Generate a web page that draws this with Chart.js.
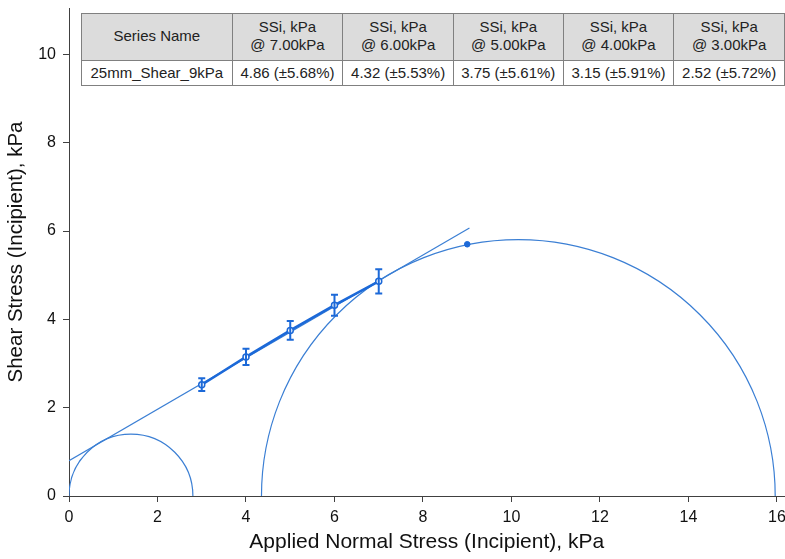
<!DOCTYPE html>
<html>
<head>
<meta charset="utf-8">
<script src="https://cdn.jsdelivr.net/npm/chart.js@4.4.0/dist/chart.umd.min.js"></script>
<style>
  body { margin: 0; background: #fff; overflow: hidden; }
  #wrap { position: relative; width: 785px; height: 559px; overflow: hidden; }
  #summary {
    position: absolute; left: 81px; top: 13px;
    border-collapse: collapse; table-layout: fixed;
    font-family: "Liberation Sans", Arial, sans-serif; font-size: 15px; color: #222;
    background: #fff;
  }
  #summary td, #summary th {
    border: 1px solid #808080; padding: 0; text-align: center; font-weight: normal;
    white-space: nowrap; line-height: 18px;
  }
  #summary th { background: #dcdcdc; height: 43px; padding-bottom: 3px; }
  #summary td { height: 24px; }
</style>
</head>
<body>
<div id="wrap">
  <!-- canvas is a little wider than the page so the last x label gets cut at the edge -->
  <canvas id="mohrChart" width="790" height="559"></canvas>
  <table id="summary"></table>
</div>
<script>
// measured points (normal stress -> incipient shear stress)
const seriesName = "25mm_Shear_9kPa";
const normalStress = [3, 4, 5, 6, 7];
const shearStress = [2.52, 3.15, 3.75, 4.32, 4.86];
const errorPct = [5.72, 5.91, 5.61, 5.53, 5.68];

// shear test point
const testNormal = [9];
const testShear = [5.7];

// yield locus (fit line) end points
const fitX = [0, 9.05];
const fitY = [0.8, 6.07];

// Mohr circles, given by their end points on the normal stress axis
const circleLow = [0, 4.35];
const circleHigh = [2.8, 15.96];

const xTicks = [0, 2, 4, 6, 8, 10, 12, 14, 16];
const yTicks = [0, 2, 4, 6, 8, 10];

const dataBlue = "#1c69d8";
const lineBlue = "#3b7fd4";
const axisColor = "#404040";

function buildTable() {
  let table = document.getElementById("summary");
  let widths = [151, 111, 111, 110, 111, 111];
  let cols = "<colgroup>" + widths.map(w => '<col style="width:' + w + 'px">').join("") + "</colgroup>";
  let head = "<tr><th>Series Name</th>";
  let row = "<tr><td>" + seriesName + "</td>";
  for (let i = normalStress.length - 1; i >= 0; i--) {
    head += "<th>SSi, kPa<br>@ " + normalStress[i].toFixed(2) + "kPa</th>";
    row += "<td>" + shearStress[i].toFixed(2) + " (\u00b1" + errorPct[i].toFixed(2) + "%)</td>";
  }
  table.innerHTML = cols + head + "</tr>" + row + "</tr>";
}

// draws the upper halves of the Mohr circles
const circlePlugin = {
  id: "mohrCircles",
  beforeDatasetsDraw(chart) {
    const ctx = chart.ctx;
    const xs = chart.scales.x;
    const ys = chart.scales.y;
    const area = chart.chartArea;
    ctx.save();
    ctx.beginPath();
    ctx.rect(area.left, area.top, area.right - area.left, area.bottom - area.top);
    ctx.clip();
    ctx.strokeStyle = lineBlue;
    ctx.lineWidth = 1.2;
    for (let i = 0; i < circleLow.length; i++) {
      let c = (circleLow[i] + circleHigh[i]) / 2;
      let r = (circleHigh[i] - circleLow[i]) / 2;
      let cx = xs.getPixelForValue(c);
      let cy = ys.getPixelForValue(0);
      let rx = xs.getPixelForValue(c + r) - cx;
      let ry = cy - ys.getPixelForValue(r);
      ctx.beginPath();
      ctx.ellipse(cx, cy, rx, ry, 0, Math.PI, 2 * Math.PI);
      ctx.stroke();
    }
    ctx.restore();
  }
};

// vertical error bars with caps on the measured series
const errorBarPlugin = {
  id: "errorBars",
  afterDatasetsDraw(chart) {
    const ctx = chart.ctx;
    const xs = chart.scales.x;
    const ys = chart.scales.y;
    ctx.save();
    ctx.strokeStyle = dataBlue;
    ctx.lineWidth = 2;
    for (let i = 0; i < normalStress.length; i++) {
      let err = shearStress[i] * errorPct[i] / 100;
      let px = xs.getPixelForValue(normalStress[i]);
      let top = ys.getPixelForValue(shearStress[i] + err);
      let bot = ys.getPixelForValue(shearStress[i] - err);
      ctx.beginPath();
      ctx.moveTo(px, top); ctx.lineTo(px, bot);
      ctx.moveTo(px - 3.5, top); ctx.lineTo(px + 3.5, top);
      ctx.moveTo(px - 3.5, bot); ctx.lineTo(px + 3.5, bot);
      ctx.stroke();
    }
    ctx.restore();
  }
};

function keepTicks(list) {
  return function (scale) {
    scale.ticks = list.map(v => ({ value: v }));
  };
}

// fixed axis sizes, and no extra room for the end labels
function fixSize(prop, size) {
  return function (s) {
    s[prop] = size;
    s.paddingLeft = 0;
    s.paddingRight = 0;
    s.paddingTop = 0;
    s.paddingBottom = 0;
  };
}

function drawChart() {
  let ctx = document.getElementById("mohrChart").getContext("2d");
  new Chart(ctx, {
    type: "scatter",
    data: {
      datasets: [
        {
          label: "Series",
          data: normalStress.map((x, i) => ({ x: x, y: shearStress[i] })),
          showLine: true,
          borderColor: dataBlue,
          borderWidth: 2.5,
          pointRadius: 3,
          pointBorderWidth: 1.5,
          pointBackgroundColor: "#fff",
          pointBorderColor: dataBlue,
          order: 1
        },
        {
          label: "Test",
          data: testNormal.map((x, i) => ({ x: x, y: testShear[i] })),
          borderColor: dataBlue,
          backgroundColor: dataBlue,
          pointRadius: 2.8,
          order: 0
        },
        {
          label: "Fit",
          data: fitX.map((x, i) => ({ x: x, y: fitY[i] })),
          showLine: true,
          borderColor: lineBlue,
          borderWidth: 1.2,
          pointRadius: 0,
          order: 2
        }
      ]
    },
    options: {
      responsive: false,
      animation: false,
      layout: { padding: { top: 8, right: 0, left: 0, bottom: 0 } },
      plugins: {
        legend: { display: false },
        tooltip: { enabled: false }
      },
      scales: {
        x: {
          type: "linear",
          min: 0,
          max: 16.17,
          afterBuildTicks: keepTicks(xTicks),
          afterFit: fixSize("height", 63),
          border: { color: axisColor, width: 1 },
          grid: { drawOnChartArea: false, tickLength: 6, color: axisColor },
          ticks: {
            padding: 6,
            color: "#111",
            font: { family: "Liberation Sans", size: 16 }
          },
          title: {
            display: true,
            text: "Applied Normal Stress (Incipient), kPa",
            color: "#111",
            padding: { top: 4, bottom: 4 },
            font: { family: "Liberation Sans", size: 21 }
          }
        },
        y: {
          type: "linear",
          min: 0,
          max: 11.05,
          afterBuildTicks: keepTicks(yTicks),
          afterFit: fixSize("width", 69),
          border: { color: axisColor, width: 1 },
          grid: { drawOnChartArea: false, tickLength: 6, color: axisColor },
          ticks: {
            padding: 7,
            color: "#111",
            font: { family: "Liberation Sans", size: 16 }
          },
          title: {
            display: true,
            text: "Shear Stress (Incipient), kPa",
            color: "#111",
            padding: { top: 4, bottom: 4 },
            font: { family: "Liberation Sans", size: 20.5 }
          }
        }
      }
    },
    plugins: [circlePlugin, errorBarPlugin]
  });
}

buildTable();
drawChart();
</script>
</body>
</html>
